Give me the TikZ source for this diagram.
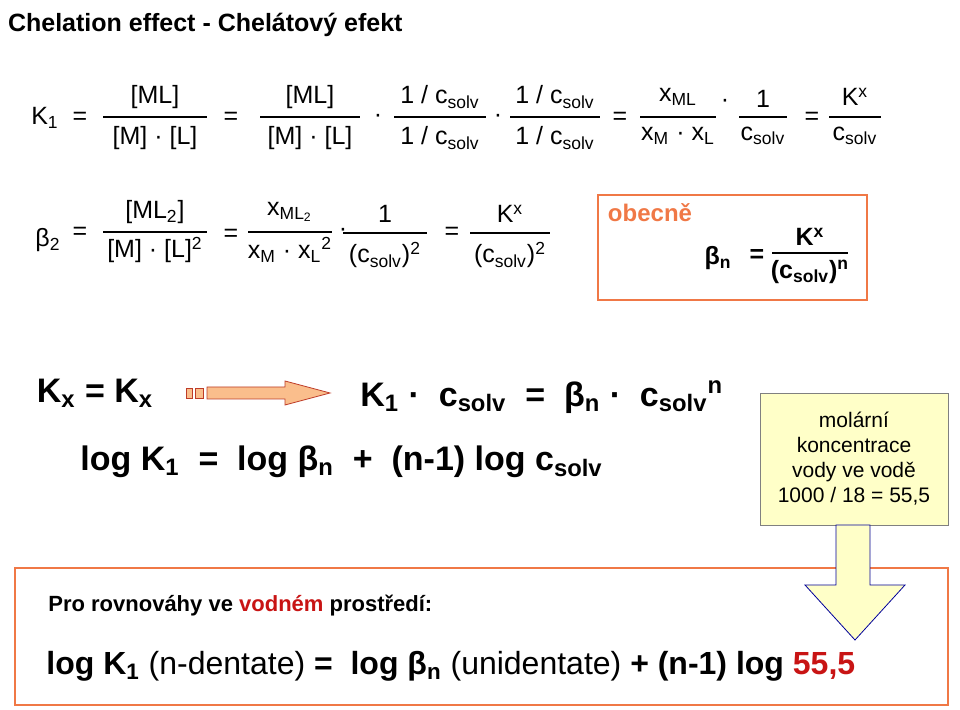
\documentclass[tikz,border=0pt]{standalone}
\usepackage{fontspec}
\setmainfont{Liberation Sans}
\usetikzlibrary{positioning}
\definecolor{boxorange}{RGB}{240,120,70}
\definecolor{arrfill}{RGB}{250,190,140}
\definecolor{arrline}{RGB}{190,60,40}
\definecolor{notefill}{RGB}{255,255,200}
\definecolor{redtext}{RGB}{200,20,20}
\newcommand{\sbs}[1]{\textsubscript{#1}}
\newcommand{\sps}[1]{\textsuperscript{#1}}
% fraction: name, centre x, numerator y, bar y, denominator y, half width, numerator, denominator
\newcommand{\frc}[8]{%
  \node[term] (#1num) at (#2,#3) {#7};
  \node[term] (#1den) at (#2,#5) {#8};
  \draw[thick] (#2-#6,#4) -- (#2+#6,#4);}
\begin{document}
\begin{tikzpicture}[x=0.5pt,y=-0.5pt]
    \tikzstyle{term} = [inner sep=0pt, font=\fontsize{12.5}{14}\selectfont]
    \tikzstyle{bigterm} = [inner sep=0pt, font=\fontsize{17}{19}\selectfont\bfseries]
    \useasboundingbox (0,0) rectangle (960,710);

    % Title
    \node[anchor=west, font=\fontsize{12.5}{14}\selectfont\bfseries] (title) at (1,25) {Chelation effect - Chelátový efekt};

    % First row
    \node[term] (Kone) at (45,118) {K\sbs{1}};
    \node[term] (eqa) at (80,118) {=};
    \frc{fa}{155}{97}{117}{138}{52}{[ML]}{[M] · [L]}
    \node[term] (eqb) at (231,118) {=};
    \frc{fb}{310}{97}{117}{138}{50}{[ML]}{[M] · [L]}
    \node[term] (dota) at (378,118) {·};
    \frc{fc}{440}{97}{117}{138}{46}{1 / c\sbs{solv}}{1 / c\sbs{solv}}
    \node[term] (dotb) at (498,118) {·};
    \frc{fd}{555}{97}{117}{138}{45}{1 / c\sbs{solv}}{1 / c\sbs{solv}}
    \node[term] (eqc) at (620,118) {=};
    \frc{fe}{678}{97}{117}{136}{38}{x\sbs{ML}}{x\sbs{M} · x\sbs{L}}
    \node[term] (dotc) at (725,103) {·};
    \frc{ff}{763}{99}{117}{136}{24}{1}{c\sbs{solv}}
    \node[term] (eqd) at (812,118) {=};
    \frc{fg}{855}{97}{117}{136}{26}{K\sps{x}}{c\sbs{solv}}

    % Second row
    \node[term] (betatwo) at (48,240) {β\sbs{2}};
    \node[term] (eqe) at (80,233) {=};
    \frc{fh}{155}{212}{232}{250}{52}{[ML\sbs{2}]}{[M] · [L]\sps{2}}
    \node[term] (eqf) at (231,235) {=};
    \frc{fi}{290}{212}{232}{250}{42}{x\sbs{ML\sbs{2}}}{x\sbs{M} · x\sbs{L}\sps{2}}
    \node[term] (dotd) at (343,232) {·};
    \frc{fj}{385}{214}{233}{255}{42}{1}{(c\sbs{solv})\sps{2}}
    \node[term] (eqg) at (452,233) {=};
    \frc{fk}{510}{214}{233}{255}{40}{K\sps{x}}{(c\sbs{solv})\sps{2}}

    % General case box
    \draw[boxorange, thick] (598,195) rectangle (867,300);
    \node[font=\fontsize{12}{14}\selectfont\bfseries, text=boxorange, inner sep=0pt] (obecne) at (650,213) {obecně};
    \node[term, font=\fontsize{12.5}{14}\selectfont\bfseries] (betan) at (718,258) {β\sbs{n}};
    \node[term, font=\fontsize{12.5}{14}\selectfont\bfseries] (eqh) at (757,256) {=};
    \frc{fl}{810}{237}{253}{272}{38}{\bfseries K\sps{x}}{\bfseries (c\sbs{solv})\sps{n}}

    % Third row
    \node[bigterm] (kxkx) at (95,393) {K\sbs{x} = K\sbs{x}};
    \draw[arrline, fill=arrfill] (186,388) rectangle (192,398);
    \draw[arrline, fill=arrfill] (195,388) rectangle (203,398);
    \draw[arrline, fill=arrfill] (207,387) -- (285,387) -- (285,381) -- (330,393) -- (285,405) -- (285,399) -- (207,399) -- cycle;
    \node[bigterm, anchor=west] (relation) at (360,397) {K\sbs{1} · \ c\sbs{solv} \ = \ β\sbs{n} · \ c\sbs{solv}\sps{n}};
    \node[bigterm, anchor=west] (logrel) at (80,462) {log K\sbs{1} \ = \ log β\sbs{n} \ + \ (n-1) log c\sbs{solv}};

    % Note box
    \node[draw=gray, fill=notefill, minimum width=94pt, minimum height=66pt, align=center, font=\fontsize{10.5}{12.5}\selectfont] (note) at (854,459) {molární\\koncentrace\\vody ve vodě\\1000 / 18 = 55,5};

    % Bottom box
    \draw[boxorange, thick] (15,568) -- (948,568) -- (948,705) -- (15,705) -- cycle;
    \draw[blue!60!black, fill=notefill] (836,525) -- (870,525) -- (870,585) -- (905,585) -- (855,640) -- (805,585) -- (836,585) -- cycle;
    \node[anchor=west, font=\fontsize{11}{13}\selectfont\bfseries, inner sep=0pt] (water) at (48,606) {Pro rovnováhy ve \textcolor{redtext}{vodném} prostředí:};
    \node[anchor=west, inner sep=0pt, font=\fontsize{16}{18}\selectfont] (final) at (46,666) {\textbf{log K\sbs{1}} (n-dentate) \textbf{=} \ \textbf{log β\sbs{n}} (unidentate) \textbf{+} \textbf{(n-1) log \textcolor{redtext}{55,5}}};
\end{tikzpicture}
\end{document}
